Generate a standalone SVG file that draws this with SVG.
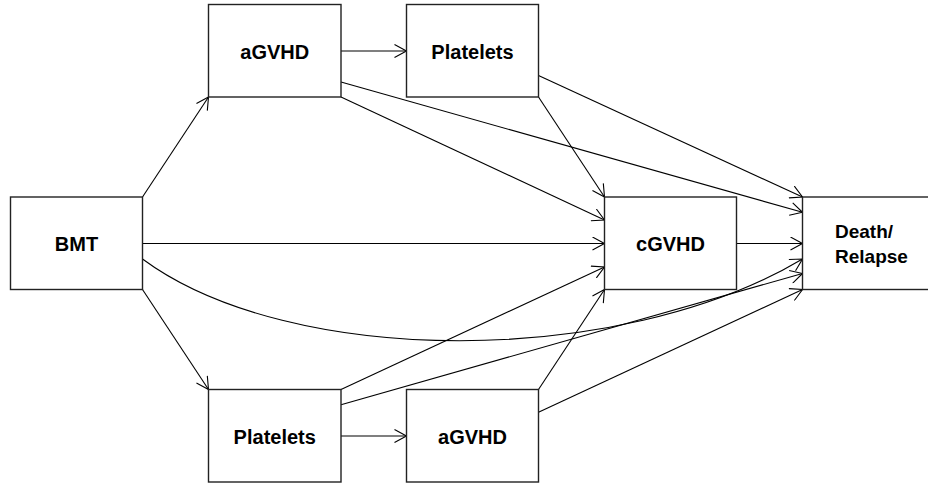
<svg xmlns="http://www.w3.org/2000/svg" width="928" height="489" viewBox="0 0 928 489">
<style>
.box{fill:#fff;stroke:#222;stroke-width:1.4}
.lbl{font-family:"Liberation Sans",Arial,Helvetica,sans-serif;font-weight:bold;font-size:20px;fill:#000}
.sm{font-size:19px}
.c{text-anchor:middle}
.e{fill:none;stroke:#000;stroke-width:1.1;marker-end:url(#arr)}
</style>
<defs>
<marker id="arr" markerUnits="userSpaceOnUse" markerWidth="14" markerHeight="14" refX="12.5" refY="7" orient="auto">
<path d="M0.5,0.5 L12.5,7 L0.5,13.5" fill="none" stroke="#000" stroke-width="1.1"/>
</marker>
</defs>
<rect width="928" height="489" fill="#fff"/>
<g id="connectors">
<path class="e" d="M142.5,197 L208.5,97"/>
<path class="e" d="M142.5,289.5 L208.5,389.5"/>
<path class="e" d="M142.5,243.5 L604.5,243.5"/>
<path class="e" d="M142.5,259 C290,368 620,368 802.5,259"/>
<path class="e" d="M341,51 L406.5,51"/>
<path class="e" d="M341,82 L802.5,212.3"/>
<path class="e" d="M341,97 L604.5,220"/>
<path class="e" d="M538.5,75.5 L802.5,197"/>
<path class="e" d="M538.5,97 L604.5,197"/>
<path class="e" d="M736.5,243.5 L802.5,243.5"/>
<path class="e" d="M341,436 L406.5,436"/>
<path class="e" d="M341,389.5 L604.5,267"/>
<path class="e" d="M341,404.7 L802.5,273.5"/>
<path class="e" d="M538.5,389.5 L604.5,289.5"/>
<path class="e" d="M538.5,412.3 L802.5,289.5"/>
</g>
<g id="bmt"><rect class="box" x="10.5" y="197" width="132" height="92.5"/><text class="lbl c" x="76.5" y="250.7">BMT</text></g>
<g id="agvhd-top"><rect class="box" x="208.5" y="4.5" width="132.5" height="92.5"/><text class="lbl c" x="274.75" y="58.8">aGVHD</text></g>
<g id="platelets-top"><rect class="box" x="406.5" y="4.5" width="132" height="92.5"/><text class="lbl c" x="472.5" y="58.8">Platelets</text></g>
<g id="cgvhd"><rect class="box" x="604.5" y="197" width="132" height="92.5"/><text class="lbl c" x="670.5" y="250.7">cGVHD</text></g>
<g id="death-relapse"><rect class="box" x="802.5" y="197" width="140" height="92.5"/><text class="lbl sm" x="835" y="238.3">Death/</text><text class="lbl sm" x="835" y="263.3">Relapse</text></g>
<g id="platelets-bottom"><rect class="box" x="208.5" y="389.5" width="132.5" height="92.5"/><text class="lbl c" x="274.75" y="443.5">Platelets</text></g>
<g id="agvhd-bottom"><rect class="box" x="406.5" y="389.5" width="132" height="92.5"/><text class="lbl c" x="472.5" y="443.5">aGVHD</text></g>
</svg>
